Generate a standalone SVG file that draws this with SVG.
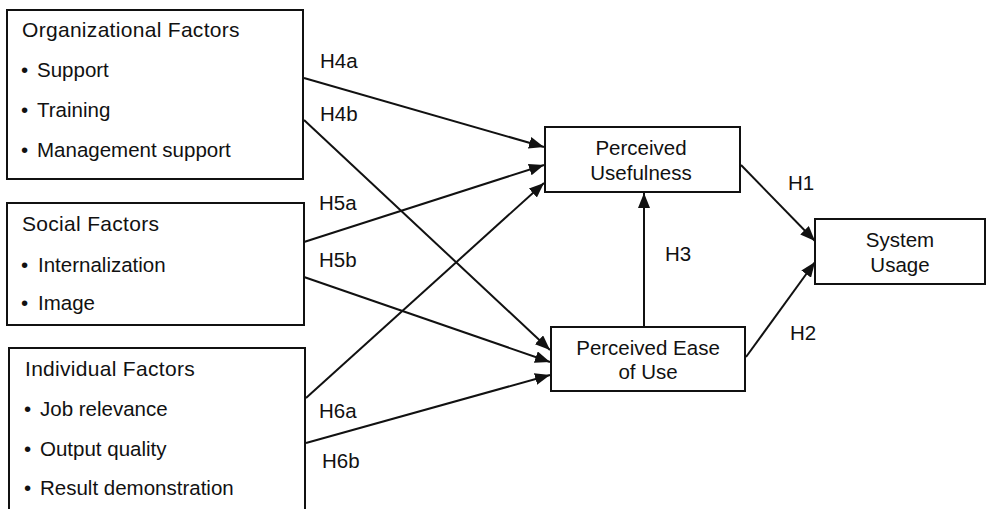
<svg xmlns="http://www.w3.org/2000/svg" width="987" height="509" viewBox="0 0 987 509">
<style>
.box{fill:#fff;stroke:#111;stroke-width:2}
.t{font-family:"Liberation Sans",Arial,sans-serif;font-size:20.5px;fill:#111}
.w{font-size:21px;letter-spacing:0.3px}
.c{text-anchor:middle}
.ln{stroke:#111;stroke-width:2;fill:none;marker-end:url(#ah)}
</style>
<defs>
<marker id="ah" markerUnits="userSpaceOnUse" markerWidth="16" markerHeight="12" refX="15" refY="6" orient="auto">
<path d="M0,0 L15,6 L0,12 z" fill="#111"/>
</marker>
</defs>
<g id="connectors">
<line class="ln" x1="304" y1="78" x2="544" y2="147"/>
<line class="ln" x1="304" y1="120" x2="550" y2="350"/>
<line class="ln" x1="304" y1="242" x2="544" y2="165"/>
<line class="ln" x1="304" y1="277" x2="550" y2="362"/>
<line class="ln" x1="306" y1="398" x2="544" y2="183"/>
<line class="ln" x1="306" y1="443" x2="550" y2="375"/>
<line class="ln" x1="644" y1="327" x2="644" y2="193"/>
<line class="ln" x1="741" y1="165" x2="815" y2="241"/>
<line class="ln" x1="746" y1="357" x2="815" y2="262"/>
<text class="t" x="320" y="68">H4a</text>
<text class="t" x="320" y="121">H4b</text>
<text class="t" x="319" y="210">H5a</text>
<text class="t" x="319" y="267">H5b</text>
<text class="t" x="319" y="418">H6a</text>
<text class="t" x="322" y="468">H6b</text>
<text class="t" x="665" y="261">H3</text>
<text class="t" x="788" y="190">H1</text>
<text class="t" x="790" y="340">H2</text>
</g>
<g id="org">
<rect class="box" x="7" y="10" width="296" height="169"/>
<text class="t w" x="22" y="37">Organizational Factors</text>
<text class="t" x="21" y="77">• <tspan x="37">Support</tspan></text>
<text class="t" x="21" y="117">• <tspan x="37">Training</tspan></text>
<text class="t" x="21" y="157">• <tspan x="37">Management support</tspan></text>
</g>
<g id="social">
<rect class="box" x="7" y="203" width="297" height="122"/>
<text class="t w" x="22" y="231">Social Factors</text>
<text class="t" x="21" y="272">• <tspan x="38">Internalization</tspan></text>
<text class="t" x="21" y="310">• <tspan x="38">Image</tspan></text>
</g>
<g id="individual">
<rect class="box" x="9" y="348" width="296" height="180"/>
<text class="t w" x="25" y="376">Individual Factors</text>
<text class="t" x="24" y="416">• <tspan x="40">Job relevance</tspan></text>
<text class="t" x="24" y="456">• <tspan x="40">Output quality</tspan></text>
<text class="t" x="24" y="495">• <tspan x="40">Result demonstration</tspan></text>
</g>
<g id="pu">
<rect class="box" x="545" y="127" width="195" height="65"/>
<text class="t c" x="641" y="155">Perceived</text>
<text class="t c" x="641" y="180">Usefulness</text>
</g>
<g id="peou">
<rect class="box" x="551" y="327" width="194" height="64"/>
<text class="t c" x="648" y="355">Perceived Ease</text>
<text class="t c" x="648" y="379">of Use</text>
</g>
<g id="su">
<rect class="box" x="815" y="219" width="170" height="65"/>
<text class="t c" x="900" y="247">System</text>
<text class="t c" x="900" y="272">Usage</text>
</g>
</svg>
